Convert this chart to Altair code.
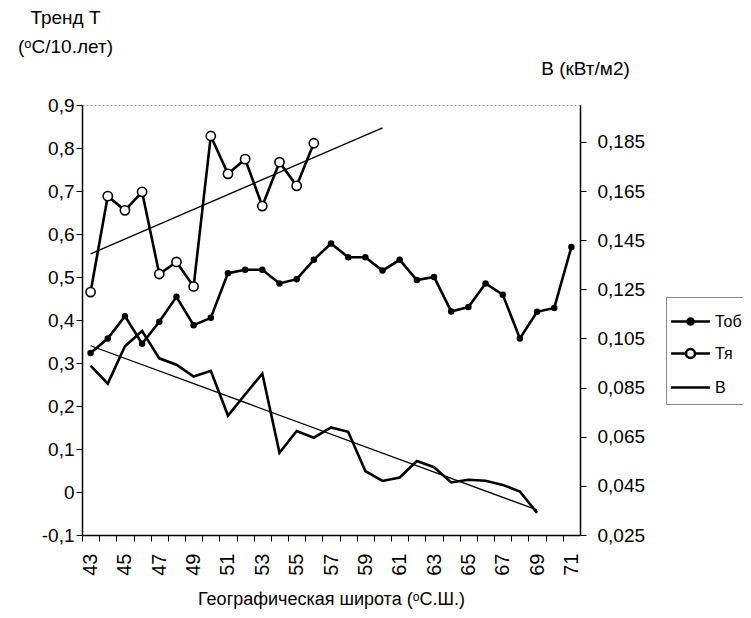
import altair as alt
import pandas as pd

# ---------------- data ----------------
lat_tob = list(range(43, 72))
t_ob = [0.323, 0.357, 0.409, 0.345, 0.396, 0.454, 0.388, 0.405, 0.509, 0.517,
        0.517, 0.485, 0.495, 0.540, 0.578, 0.546, 0.546, 0.515, 0.540, 0.493,
        0.500, 0.420, 0.430, 0.485, 0.459, 0.357, 0.419, 0.428, 0.570]

lat_tya = list(range(43, 57))
t_ya = [0.465, 0.688, 0.655, 0.698, 0.507, 0.535, 0.478, 0.828, 0.740, 0.774,
        0.665, 0.767, 0.712, 0.811]

lat_b = list(range(43, 70))
b_vals = [0.0939, 0.0866, 0.1018, 0.1080, 0.0969, 0.0943, 0.0895, 0.0918, 0.0736,
          0.0822, 0.0907, 0.0585, 0.0673, 0.0646, 0.0688, 0.0670, 0.0510, 0.0470,
          0.0484, 0.0551, 0.0526, 0.0464, 0.0475, 0.0471, 0.0454, 0.0427, 0.0340]

series_names = ["Тоб", "Тя", "В"]
left_ticks = [round(-0.1 + 0.1 * i, 1) for i in range(11)]
right_ticks = [round(0.025 + 0.02 * i, 3) for i in range(9)]
x_ticks = list(range(43, 72))

df_tob = pd.DataFrame({"lat": lat_tob, "val": t_ob})
df_tya = pd.DataFrame({"lat": lat_tya, "val": t_ya})
df_b = pd.DataFrame({"lat": lat_b, "B": b_vals})
df_leg = pd.DataFrame({"series": series_names})

# ---------------- layout ----------------
W, H = 498, 430
STEP = W / 29.0
FONT = "Liberation Sans, Arial, sans-serif"

x_scale = alt.Scale(domain=[42.5, 71.5], nice=False, zero=False)
x_axis = alt.Axis(
    values=x_ticks,
    tickOffset=-STEP / 2,
    labelOffset=STEP / 2,
    labelExpr="datum.value % 2 == 1 ? format(datum.value, 'd') : ''",
    labelAngle=270,
    labelFontSize=20,
    labelPadding=12,
    tickSize=6,
    grid=False,
    title="Географическая широта (ᵒС.Ш.)",
    titleFontSize=18,
    titleFontWeight="normal",
    titleY=64,
    titleBaseline="middle",
)
x_enc = alt.X("lat:Q", scale=x_scale, axis=x_axis)

y_left_scale = alt.Scale(domain=[-0.1, 0.9], nice=False, zero=False)
y_left_axis = alt.Axis(
    values=left_ticks,
    labelExpr="datum.value == 0 ? '0' : replace(replace(format(datum.value, '.1f'), '.', ','), '−', '-')",
    labelFontSize=19,
    tickSize=6,
    grid=False,
    title=["Тренд Т", "(ᵒC/10.лет)"],
    titleAngle=0,
    titleFontSize=19,
    titleFontWeight="normal",
    titleAlign="center",
    titleBaseline="top",
    titleX=-17,
    titleY=-97,
    titleLineHeight=29,
)

y_right_scale = alt.Scale(domain=[0.025, 0.2], nice=False, zero=False)
y_right_axis = alt.Axis(
    orient="right",
    values=right_ticks,
    labelExpr="replace(format(datum.value, '.3f'), '.', ',')",
    labelFontSize=19,
    labelPadding=11,
    tickSize=6,
    grid=False,
    title="В (кВт/м2)",
    titleAngle=0,
    titleFontSize=19,
    titleFontWeight="normal",
    titleAlign="center",
    titleBaseline="middle",
    titleX=5,
    titleY=-37,
)

y_left = alt.Y("val:Q", scale=y_left_scale, axis=y_left_axis)
y_right = alt.Y("B:Q", scale=y_right_scale, axis=y_right_axis)

# ---------------- layers (left axis) ----------------
tob_line = alt.Chart(df_tob).mark_line(color="black", strokeWidth=2.6).encode(x=x_enc, y=y_left)
tob_pts = alt.Chart(df_tob).mark_point(filled=True, color="black", size=42, opacity=1).encode(
    x=x_enc, y=y_left)

tya_reg = alt.Chart(df_tya).transform_regression(
    "lat", "val", extent=[43, 60]
).mark_line(color="black", strokeWidth=1.3).encode(x=x_enc, y=y_left)
tya_line = alt.Chart(df_tya).mark_line(color="black", strokeWidth=2.6).encode(x=x_enc, y=y_left)
tya_pts = alt.Chart(df_tya).mark_point(filled=False, fill="white", stroke="black",
                                       strokeWidth=1.6, size=85, opacity=1).encode(
    x=x_enc, y=y_left)

# legend helper (invisible marks, legend only)
p_tob = "M-1.3,0L1.3,0M0.2,0A0.2,0.2 0 1,1 -0.2,0A0.2,0.2 0 1,1 0.2,0"
p_tya = "M-1.3,0L-0.3,0M0.3,0L1.3,0M0.3,0A0.3,0.3 0 1,1 -0.3,0A0.3,0.3 0 1,1 0.3,0"
p_b = "M-1.3,0L1.3,0"
legend_layer = alt.Chart(df_leg).mark_point(opacity=0, filled=False).encode(
    x=alt.value(0),
    y=alt.value(0),
    shape=alt.Shape(
        "series:N",
        scale=alt.Scale(domain=series_names, range=[p_tob, p_tya, p_b]),
        legend=alt.Legend(
            title=None, orient="none", legendX=584, legendY=192,
            labelFontSize=16, labelFont=FONT, labelOffset=8,
            symbolSize=900, symbolStrokeWidth=2.6, symbolStrokeColor="black",
            symbolOpacity=1, rowPadding=7, padding=8,
            strokeColor="#8a8a8a", fillColor="white",
        ),
    ),
    fill=alt.Fill(
        "series:N",
        scale=alt.Scale(domain=series_names, range=["black", "white", "black"]),
    ),
    stroke=alt.Stroke(
        "series:N",
        scale=alt.Scale(domain=series_names, range=["black", "black", "black"]),
    ),
)

left = alt.layer(tob_line, tya_reg, tya_line, tob_pts, tya_pts, legend_layer)

# ---------------- layers (right axis) ----------------
b_line = alt.Chart(df_b).mark_line(color="black", strokeWidth=2.6).encode(x=x_enc, y=y_right)
b_reg = alt.Chart(df_b).transform_regression("lat", "B").mark_line(
    color="black", strokeWidth=1.3).encode(x=x_enc, y=y_right)
right = alt.layer(b_line, b_reg)

chart = alt.layer(left, right).resolve_scale(y="independent").properties(
    width=W,
    height=H,
    padding={"left": 74, "top": 97, "right": 163, "bottom": 75},
    autosize=alt.AutoSizeParams(type="none"),
    background="white",
).configure_view(
    stroke="#9a9a9a", strokeDash=[2, 2], strokeWidth=1
).configure_axis(
    domainColor="black", tickColor="black", labelColor="black", titleColor="black",
    labelFont=FONT, titleFont=FONT, domainWidth=1.5,
)

chart.save("out.html", embed_options={"renderer": "svg", "actions": False})
